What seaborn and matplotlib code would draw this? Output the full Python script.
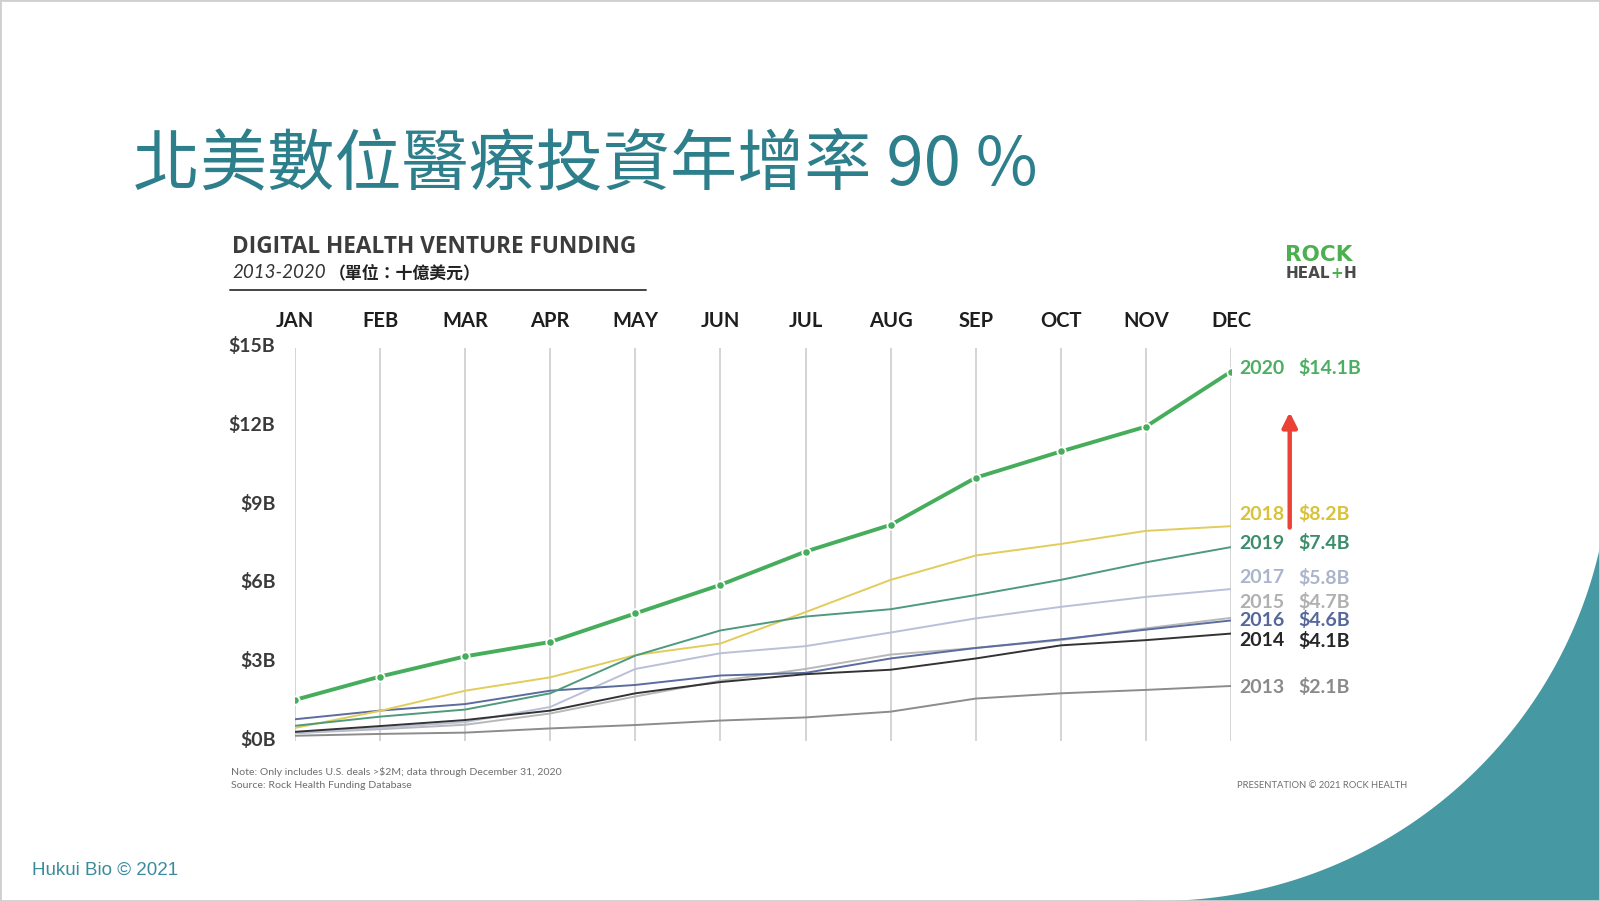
import numpy as np
import pandas as pd
import matplotlib
matplotlib.use("Agg")
import matplotlib.pyplot as plt
import seaborn as sns
from matplotlib.patches import Polygon, Rectangle
from matplotlib.transforms import ScaledTranslation

# ---------------- data ----------------
months = ["JAN", "FEB", "MAR", "APR", "MAY", "JUN", "JUL", "AUG", "SEP", "OCT", "NOV", "DEC"]
years = ["2013", "2014", "2015", "2016", "2017", "2018", "2019", "2020"]
funding_2013 = [0.20, 0.27, 0.32, 0.48, 0.61, 0.78, 0.90, 1.12, 1.62, 1.82, 1.95, 2.1]
funding_2014 = [0.35, 0.57, 0.80, 1.16, 1.82, 2.25, 2.55, 2.72, 3.15, 3.65, 3.85, 4.1]
funding_2015 = [0.30, 0.45, 0.62, 1.05, 1.70, 2.30, 2.75, 3.30, 3.55, 3.85, 4.30, 4.7]
funding_2016 = [0.83, 1.16, 1.41, 1.92, 2.14, 2.50, 2.60, 3.15, 3.55, 3.88, 4.25, 4.6]
funding_2017 = [0.30, 0.50, 0.72, 1.30, 2.75, 3.35, 3.62, 4.14, 4.68, 5.12, 5.50, 5.8]
funding_2018 = [0.50, 1.15, 1.92, 2.43, 3.28, 3.72, 4.92, 6.15, 7.08, 7.52, 8.02, 8.2]
funding_2019 = [0.58, 0.93, 1.20, 1.82, 3.26, 4.22, 4.75, 5.03, 5.57, 6.15, 6.82, 7.4]
funding_2020 = [1.57, 2.46, 3.23, 3.78, 4.87, 5.96, 7.23, 8.25, 10.05, 11.05, 12.00, 14.1]
totals = ["$2.1B", "$4.1B", "$4.7B", "$4.6B", "$5.8B", "$8.2B", "$7.4B", "$14.1B"]
y_ticks = [0, 3, 6, 9, 12, 15]
y_tick_labels = ["$0B", "$3B", "$6B", "$9B", "$12B", "$15B"]

series = dict(zip(years, [funding_2013, funding_2014, funding_2015, funding_2016,
                          funding_2017, funding_2018, funding_2019, funding_2020]))
total_of = dict(zip(years, totals))

# ---------------- style ----------------
line_colors = {"2013": "#8c8c8c", "2014": "#333333", "2015": "#b8b8b8", "2016": "#5b6c9e",
               "2017": "#b9c0d8", "2018": "#e2cc5a", "2019": "#4f9a7c", "2020": "#46ad5c"}
label_colors = {"2013": "#8a8a8a", "2014": "#262626", "2015": "#b0b0b0", "2016": "#56679a",
                "2017": "#aab4cc", "2018": "#d8c23a", "2019": "#3d8c6c", "2020": "#4cae62"}
# vertical placement of the end labels (in axis units, layout only)
label_pos = {"2013": 2.06, "2014": 3.82, "2015": 5.30, "2016": 4.60,
             "2017": 6.24, "2018": 8.66, "2019": 7.55, "2020": 14.23}
draw_order = ["2013", "2015", "2017", "2016", "2014", "2018", "2019"]

W, H = 1600, 901
sns.set_theme(style="white")
plt.rcParams["font.family"] = ["Lato", "Noto Sans CJK TC", "DejaVu Sans"]

fig = plt.figure(figsize=(16, 9.01), dpi=100)
fig.patch.set_facecolor("white")


def fx(x):
    return x / W


def fy(y):
    return 1 - y / H


# teal decoration bottom-right
h, k, r = 1158.0, 448.0, 453.0
t = np.linspace(0.05, 1.62, 240)
arc = [(fx(h + r * np.cos(a)), fy(k + r * np.sin(a))) for a in t]
arc += [(fx(1700), fy(1000)), (fx(1700), fy(300))]
fig.patches.append(Polygon(arc, closed=True, transform=fig.transFigure,
                           facecolor="#4698a2", edgecolor="none", zorder=0))
fig.patches.append(Rectangle((0, 0), 1, 1, transform=fig.transFigure, fill=False,
                             edgecolor="#cfcfcf", lw=2, zorder=1))

# axes: JAN at x=295, DEC at x=1231 ; 0 at y=741, 15 at y=348
ax = fig.add_axes([fx(295), fy(741), (1231 - 295) / W, (741 - 348) / H])
ax.set_facecolor("none")

df = pd.DataFrame([
    {"month": i, "value": v, "year": y}
    for y in years for i, v in enumerate(series[y])
])

sns.lineplot(data=df[df["year"] != "2020"], x="month", y="value", hue="year",
             hue_order=draw_order, palette=line_colors, linewidth=1.4,
             legend=False, ax=ax, sort=False)
sns.lineplot(data=df[df["year"] == "2020"], x="month", y="value",
             color=line_colors["2020"], linewidth=2.8, marker="o", markersize=6,
             markeredgecolor="white", markeredgewidth=1.3, legend=False, ax=ax,
             sort=False, zorder=5)

ax.set_xlim(0, 11)
ax.set_ylim(0, 15)
ax.set_xticks(range(12))
ax.set_xticklabels(months)
ax.set_yticks(y_ticks)
ax.set_yticklabels(y_tick_labels)
ax.xaxis.tick_top()
ax.tick_params(axis="x", length=0, pad=12, labelsize=14.5, labelcolor="#1e1e1e")
ax.tick_params(axis="y", length=0, pad=14, labelsize=14, labelcolor="#3a3a3a")
for lab in ax.get_xticklabels() + ax.get_yticklabels():
    lab.set_fontweight("bold")
shift = ScaledTranslation(0, 3 / 100, fig.dpi_scale_trans)
for lab in ax.get_yticklabels():
    lab.set_transform(lab.get_transform() + shift)
ax.grid(axis="x", color="#c9c9c9", lw=1.1)
ax.grid(axis="y", visible=False)
for s in ax.spines.values():
    s.set_visible(False)
ax.set_xlabel("")
ax.set_ylabel("")

# end labels
for y in years:
    ax.text(11.10, label_pos[y], y, color=label_colors[y], fontsize=14,
            fontweight="bold", va="center", ha="left")
    ax.text(11.79, label_pos[y], total_of[y], color=label_colors[y],
            fontsize=14, fontweight="bold", va="center", ha="left")

# red arrow
ax.annotate("", xy=(11.69, 12.55), xytext=(11.69, 8.15),
            arrowprops=dict(arrowstyle="-|>", color="#ea4335", lw=3.2,
                            mutation_scale=22, shrinkA=0, shrinkB=0),
            annotation_clip=False)

# titles
fig.text(fx(133), fy(166), "北美數位醫療投資年增率 90 %", fontsize=48.3,
         color="#2e7f8c", va="center", ha="left", fontweight=300,
         family=["Noto Sans CJK TC", "DejaVu Sans"])
fig.text(fx(232), fy(247), "DIGITAL HEALTH VENTURE FUNDING", fontsize=16.3,
         fontweight="bold", color="#3c3c3c", va="center", ha="left",
         family=["Open Sans", "DejaVu Sans"])
t1 = fig.text(fx(232), fy(273), "2013-2020", fontsize=13.5, style="italic",
              color="#333333", va="center", ha="left", family=["Lato", "DejaVu Sans"])
fig.canvas.draw()
rend = fig.canvas.get_renderer()
bb = t1.get_window_extent(rend)
fig.text(bb.x1 / W + 0.002, fy(273), "（單位：十億美元）", fontsize=12.2, fontweight="bold",
         color="#222222", va="center", ha="left", family=["Noto Sans CJK TC"])
fig.add_artist(plt.Line2D([fx(230), fx(646)], [fy(290), fy(290)], color="#444444", lw=1.4))

# logo
fig.text(fx(1285), fy(255), "ROCK", fontsize=15.5, fontweight="bold", color="#4caf50",
         va="center", ha="left", family=["DejaVu Sans"])
xcur = 1286
for part, col in [("HEAL", "#4a4a4a"), ("+", "#4caf50"), ("H", "#4a4a4a")]:
    tt = fig.text(fx(xcur), fy(273), part, fontsize=11, fontweight="bold", color=col,
                  va="center", ha="left", family=["DejaVu Sans"])
    fig.canvas.draw()
    e = tt.get_window_extent(fig.canvas.get_renderer())
    xcur = e.x1

# footnotes
fig.text(fx(231), fy(772), "Note: Only includes U.S. deals >$2M; data through December 31, 2020",
         fontsize=7.55, color="#6e6e6e", va="center", ha="left")
fig.text(fx(231), fy(785), "Source: Rock Health Funding Database",
         fontsize=7.55, color="#6e6e6e", va="center", ha="left")
fig.text(fx(1237), fy(785), "PRESENTATION © 2021 ROCK HEALTH",
         fontsize=6.75, color="#6e6e6e", va="center", ha="left")
fig.text(fx(32), fy(870), "Hukui Bio © 2021", fontsize=13.5, color="#3a8c9c",
         va="center", ha="left", family=["Liberation Sans", "DejaVu Sans"])

fig.savefig("out.png", dpi=100, facecolor="white")
